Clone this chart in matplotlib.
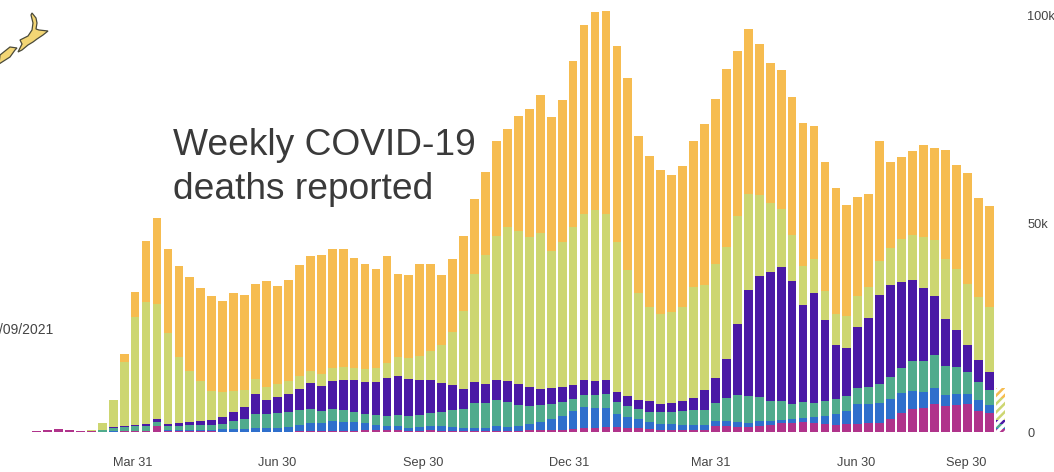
import matplotlib
matplotlib.use("Agg")
import matplotlib.pyplot as plt
from matplotlib.patches import Polygon
import numpy as np

plt.rcParams['font.family'] = ['Liberation Sans', 'DejaVu Sans']
plt.rcParams['hatch.linewidth'] = 1.8

# weekly deaths, thousands
magenta = [.08,.24,.48,.8,.64,.4,.24,.16,.16,.24,.24,.24,1.6,.4,.32,.24,.24,.24,.16,.16,.16,.16,.16,.16,.16,.4,.24,.24,.24,.4,
           .4,.56,.56,.56,.64,.4,.4,.48,.4,.4,.32,.32,.32,.32,.4,.4,.56,.56,.56,.56,.8,1.04,1.12,1.2,1.2,1.12,1.12,.72,.64,.64,
           .56,.56,.64,1.6,1.44,1.28,1.2,1.6,1.76,2.16,2.16,2.56,2.32,2.08,1.84,2.0,2.0,2.16,2.24,3.2,4.56,5.68,5.92,6.88,6.32,6.48,6.88,5.2,4.72]
blue = [0,0,0,0,0,0,0,0,.08,0,.08,.08,0,.24,.24,.32,.32,.4,.56,.56,.72,.8,.8,.8,1.2,1.36,2.0,2.0,2.56,2.16,
        2.0,1.6,1.2,1.04,.96,.64,.8,1.12,1.04,.8,.72,.72,.8,1.12,.88,1.04,1.36,1.84,2.64,3.44,4.24,5.04,4.8,4.64,3.28,2.48,2.08,1.68,1.36,1.36,
        1.28,1.28,1.04,1.04,1.2,1.12,1.04,1.04,.96,.88,1.04,.96,1.36,1.92,2.64,3.2,4.8,4.72,4.8,4.8,4.8,4.32,3.84,3.76,2.72,2.8,2.32,2.56,1.84]
green = [0,0,0,0,0,0,0,.4,.88,1.12,1.28,1.28,.96,.88,.96,1.12,1.12,1.12,1.28,1.92,2.32,3.44,3.44,3.6,3.6,3.68,3.36,2.96,2.72,2.72,
         2.48,2.16,2.32,2.4,2.64,2.8,2.96,3.12,3.52,4.24,4.56,5.92,5.92,6.4,5.92,5.12,4.4,4.08,3.6,3.2,2.96,2.88,3.04,3.36,2.8,2.64,2.48,2.56,2.8,2.96,
         3.36,3.52,3.68,4.4,5.52,6.48,6.48,5.84,4.8,4.48,3.6,3.68,3.44,3.52,3.44,3.6,3.84,4.08,4.48,5.36,6.16,7.12,7.36,7.92,6.96,6.4,5.2,4.32,3.6]
purple = [0,0,0,0,0,0,0,0,.08,.08,.16,.4,.64,.56,.64,.88,.96,1.28,1.68,2.24,2.88,4.72,3.36,4,4.24,4.96,6.16,6,6.8,7.28,
          7.68,7.84,8.08,9.04,9.36,9.04,8.48,7.84,6.96,5.84,4.8,5.12,4.64,4.8,5.12,4.96,4.48,3.92,3.92,3.68,3.28,3.6,3.28,3.36,2.48,2.4,2.16,2.64,1.92,2.08,
          2.4,2.96,4.72,6,9.44,17.2,25.36,28.96,30.88,32.24,29.44,23.44,26.24,19.44,13.12,11.52,14.64,16.4,21.44,22,20.64,19.36,17.44,14.08,11.12,8.96,6.48,5.28,4.4]
lime = [0,0,0,0,0,0,.32,1.76,6.56,15.52,25.84,29.36,27.6,21.68,15.84,12.08,9.6,6.88,6.08,4.96,4.08,3.6,3.04,3.04,3.04,3.04,2.88,2.88,3.04,3.04,
        2.8,3.04,3.36,3.52,4.48,5.04,5.6,6.88,9.12,12.8,18.72,25.92,30.96,34.56,36.88,36.72,36.08,37.44,32.8,34.72,37.92,39.84,41.2,39.76,35.92,30.32,25.52,22.48,21.6,21.76,
        22.48,26.56,25.28,27.36,26.88,25.84,23.2,19.44,16.56,13.76,11.04,9.2,8.24,7.04,7.44,7.6,7.44,7.52,8.16,8.96,10.16,10.8,12.32,13.44,14.48,14.48,14.8,15.12,15.44]
orange = [0,0,0,0,0,0,0,0,.08,1.84,6,14.56,20.56,20.24,21.84,22.72,22.48,22.72,21.76,23.6,22.8,22.8,25.52,23.44,24.32,26.8,27.68,28.4,28.72,28.48,
          26.4,25.12,23.76,25.84,19.92,19.76,22.16,21.04,16.8,17.6,18,18,19.84,22.72,23.68,27.6,30.72,33.2,32.16,34.08,40,45.28,47.52,48.8,46.96,46.16,37.68,36.24,34.56,32.88,
          33.76,35.04,38.64,39.6,42.8,39.52,39.44,36.4,33.6,33.44,33.12,34.32,31.92,30.8,30.08,26.64,23.68,22.32,28.8,20.64,19.84,20.16,22,22.16,26.08,25.04,26.56,23.84,24.32]
series_names = ['magenta', 'blue', 'green', 'purple', 'lime', 'orange']
series = [magenta, blue, green, purple, lime, orange]
colors = ['#B0338B', '#2F6FCC', '#50AB8D', '#4A19A5', '#CDD671', '#F6BC50']

# incomplete latest week (hatched)
partial_week = [.72, .4, .88, .96, 5.2, 2.4]

tick_pos = [9.81, 22.96, 36.29, 49.63, 62.59, 75.84, 85.88]
tick_labels = ['Mar 31', 'Jun 30', 'Sep 30', 'Dec 31', 'Mar 31', 'Jun 30', 'Sep 30']
y_ticks = [0, 50, 100]
y_labels = ['0', '50k', '100k']

W, H = 1054, 472
base_px, right_px = 432.3, 1015
x0_px, step_px = 25.6, 10.95
fig = plt.figure(figsize=(W / 100, H / 100), dpi=100)
ax = fig.add_axes([0, (H - base_px) / H, right_px / W, base_px / H])

x = np.arange(len(magenta))
bottom = np.zeros(len(x))
for vals, c, name in zip(series, colors, series_names):
    ax.bar(x, vals, width=0.8, bottom=bottom, color=c, linewidth=0, label=name)
    bottom += np.array(vals)

b = 0.0
xlast = len(x)
for v, c in zip(partial_week, colors):
    ax.bar(xlast, v, width=0.8, bottom=b, facecolor='white', edgecolor=c, hatch='////', linewidth=0)
    b += v

ax.set_xlim(-x0_px / step_px, (right_px - x0_px) / step_px)
ax.set_ylim(0, base_px / 4.167)
for s in ax.spines.values():
    s.set_visible(False)
ax.patch.set_visible(False)
ax.set_xticks(tick_pos, tick_labels)
ax.tick_params(axis='x', length=0, pad=18, labelsize=9.2, labelcolor='#444444')
ax.yaxis.tick_right()
ax.set_yticks(y_ticks, y_labels)
ax.tick_params(axis='y', length=0, pad=9, labelsize=9.2, labelcolor='#444444')

# headline
fig.text(173 / W, 1 - 155 / H, 'Weekly COVID-19', fontsize=26.7, color='#3A3A3A', va='baseline', ha='left')
fig.text(173 / W, 1 - 199 / H, 'deaths reported', fontsize=26.7, color='#3A3A3A', va='baseline', ha='left')
# clipped date stamp
fig.text(-1 / W, 1 - 334 / H, '/09/2021', fontsize=10, color='#444444', va='baseline', ha='left')

# New Zealand sketch
north = [(32, 13), (36, 18), (37, 23), (36, 29), (39, 30), (48, 31), (43, 35), (37, 39), (33, 42), (28, 45),
         (22, 50), (18, 52), (22, 44), (20, 40), (28, 36), (32, 30), (33, 23), (31, 15)]
south = [(17, 48), (10, 47), (0, 55), (-1, 64), (10, 57), (15, 50)]
for shape in (north, south):
    pts = [(px / W, 1 - py / H) for px, py in shape]
    fig.add_artist(Polygon(pts, closed=True, transform=fig.transFigure, facecolor='#F3D675',
                           edgecolor='#4A4A3A', linewidth=0.9))

fig.savefig('out.png', dpi=100)
